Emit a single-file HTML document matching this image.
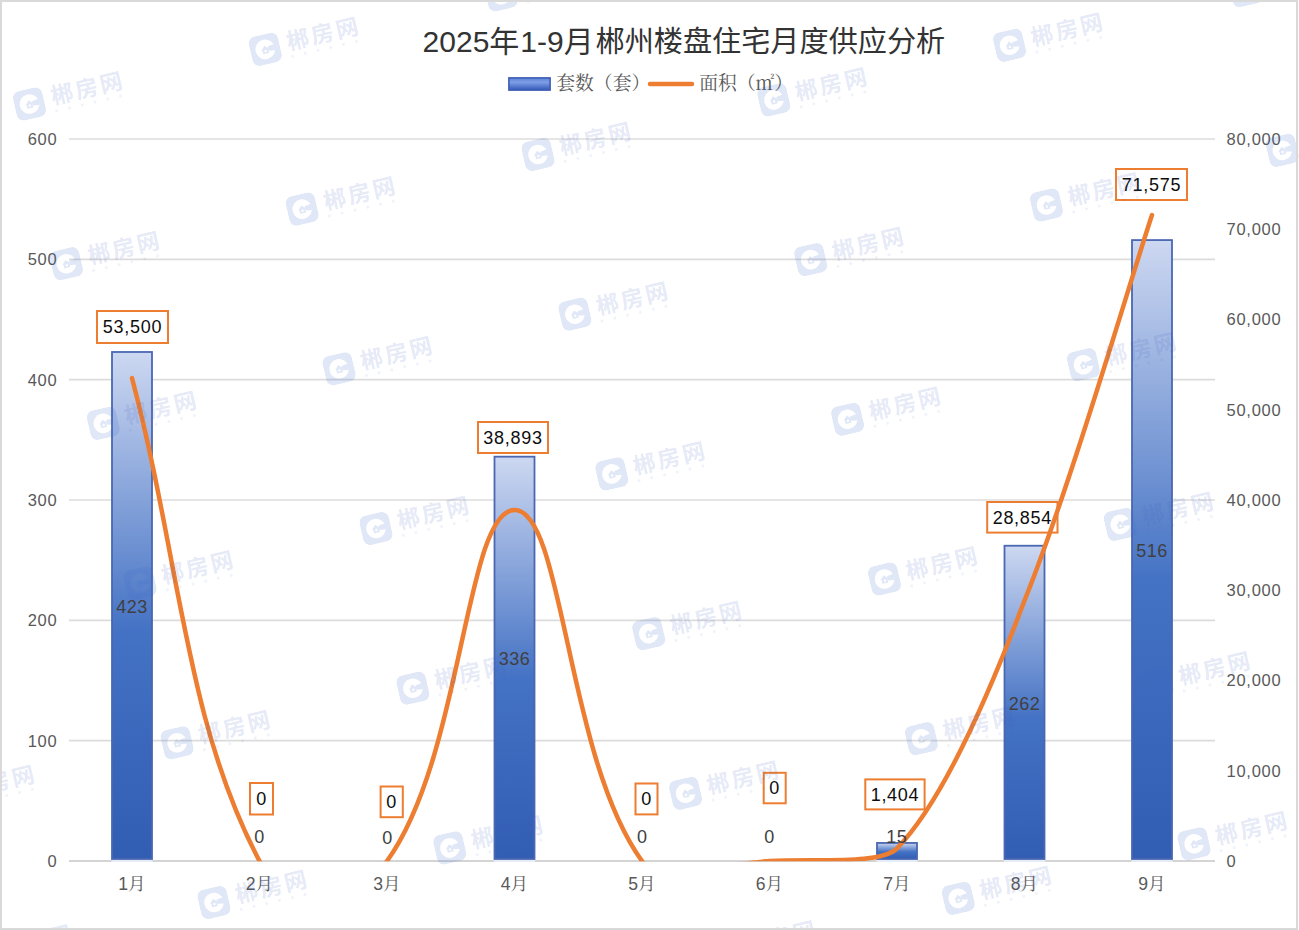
<!DOCTYPE html>
<html><head><meta charset="utf-8"><title>2025年1-9月郴州楼盘住宅月度供应分析</title>
<style>
html,body{margin:0;padding:0;background:#fff;}
body{width:1299px;height:930px;overflow:hidden;position:relative;}
.frame{position:absolute;left:0;top:0;width:1298px;height:930px;box-sizing:border-box;border:2px solid #d9d9d9;}
svg{position:absolute;left:0;top:0;}
</style></head>
<body>
<svg width="1299" height="930" viewBox="0 0 1299 930">
<line x1="69" y1="139.00" x2="1215" y2="139.00" stroke="#dcdcdc" stroke-width="1.6"/>
<line x1="69" y1="259.33" x2="1215" y2="259.33" stroke="#dcdcdc" stroke-width="1.6"/>
<line x1="69" y1="379.67" x2="1215" y2="379.67" stroke="#dcdcdc" stroke-width="1.6"/>
<line x1="69" y1="500.00" x2="1215" y2="500.00" stroke="#dcdcdc" stroke-width="1.6"/>
<line x1="69" y1="620.33" x2="1215" y2="620.33" stroke="#dcdcdc" stroke-width="1.6"/>
<line x1="69" y1="740.67" x2="1215" y2="740.67" stroke="#dcdcdc" stroke-width="1.6"/>
<defs><linearGradient id="bg" x1="0" y1="0" x2="0" y2="1"><stop offset="0" stop-color="#cdd8f1"/><stop offset="0.55" stop-color="#4472c4"/><stop offset="1" stop-color="#315db3"/></linearGradient><linearGradient id="lg" x1="0" y1="0" x2="0" y2="1"><stop offset="0" stop-color="#5b80d6"/><stop offset="0.35" stop-color="#7f9fe6"/><stop offset="1" stop-color="#3458b8"/></linearGradient><clipPath id="pc"><rect x="60" y="100" width="1170" height="761.3"/></clipPath></defs>
<rect x="112.00" y="351.99" width="40" height="507.01" fill="url(#bg)" stroke="#4a67b2" stroke-width="1.8"/>
<rect x="494.50" y="456.68" width="40" height="402.32" fill="url(#bg)" stroke="#4a67b2" stroke-width="1.8"/>
<rect x="877.00" y="842.95" width="40" height="16.05" fill="url(#bg)" stroke="#4a67b2" stroke-width="1.8"/>
<rect x="1004.50" y="545.73" width="40" height="313.27" fill="url(#bg)" stroke="#4a67b2" stroke-width="1.8"/>
<rect x="1132.00" y="240.08" width="40" height="618.92" fill="url(#bg)" stroke="#4a67b2" stroke-width="1.8"/>
<line x1="69" y1="861" x2="1215" y2="861" stroke="#d4d4d4" stroke-width="1.8"/>
<rect x="111.50" y="860" width="41" height="2" fill="#e6ecf8"/>
<rect x="494.00" y="860" width="41" height="2" fill="#e6ecf8"/>
<rect x="876.50" y="860" width="41" height="2" fill="#e6ecf8"/>
<rect x="1004.00" y="860" width="41" height="2" fill="#e6ecf8"/>
<rect x="1131.50" y="860" width="41" height="2" fill="#e6ecf8"/>
<path d="M132.00,378.16 C180.19,560.68 185.04,720.01 259.50,861.00 C290.10,918.94 356.40,903.12 387.00,861.00 C462.99,756.40 465.28,509.99 514.50,509.99 C563.72,509.99 566.01,756.40 642.00,861.00 C654.75,878.55 744.00,862.27 769.50,861.00 C818.21,858.58 880.93,864.73 897.00,848.33 C956.92,787.13 1018.12,616.42 1024.50,600.59 C1069.12,489.77 1129.69,282.51 1152.00,215.04" fill="none" stroke="#ed7d31" stroke-width="4.5" stroke-linecap="round" stroke-linejoin="round" clip-path="url(#pc)"/>
<g font-family="'Liberation Sans','Noto Sans CJK SC',sans-serif" font-size="16.5" letter-spacing="0.7" fill="#595959"><text x="57.3" y="144.90" text-anchor="end">600</text><text x="57.3" y="265.23" text-anchor="end">500</text><text x="57.3" y="385.57" text-anchor="end">400</text><text x="57.3" y="505.90" text-anchor="end">300</text><text x="57.3" y="626.23" text-anchor="end">200</text><text x="57.3" y="746.57" text-anchor="end">100</text><text x="57.3" y="866.90" text-anchor="end">0</text><text x="1226.6" y="144.90">80,000</text><text x="1226.6" y="235.15">70,000</text><text x="1226.6" y="325.40">60,000</text><text x="1226.6" y="415.65">50,000</text><text x="1226.6" y="505.90">40,000</text><text x="1226.6" y="596.15">30,000</text><text x="1226.6" y="686.40">20,000</text><text x="1226.6" y="776.65">10,000</text><text x="1226.6" y="866.90">0</text></g>
<g font-family="'Liberation Sans','Noto Sans CJK SC',sans-serif" font-size="17.6" fill="#595959"><text x="132.00" y="889.8" text-anchor="middle">1<tspan font-family="'Liberation Sans','Noto Serif CJK SC',serif">月</tspan></text><text x="259.50" y="889.8" text-anchor="middle">2<tspan font-family="'Liberation Sans','Noto Serif CJK SC',serif">月</tspan></text><text x="387.00" y="889.8" text-anchor="middle">3<tspan font-family="'Liberation Sans','Noto Serif CJK SC',serif">月</tspan></text><text x="514.50" y="889.8" text-anchor="middle">4<tspan font-family="'Liberation Sans','Noto Serif CJK SC',serif">月</tspan></text><text x="642.00" y="889.8" text-anchor="middle">5<tspan font-family="'Liberation Sans','Noto Serif CJK SC',serif">月</tspan></text><text x="769.50" y="889.8" text-anchor="middle">6<tspan font-family="'Liberation Sans','Noto Serif CJK SC',serif">月</tspan></text><text x="897.00" y="889.8" text-anchor="middle">7<tspan font-family="'Liberation Sans','Noto Serif CJK SC',serif">月</tspan></text><text x="1024.50" y="889.8" text-anchor="middle">8<tspan font-family="'Liberation Sans','Noto Serif CJK SC',serif">月</tspan></text><text x="1152.00" y="889.8" text-anchor="middle">9<tspan font-family="'Liberation Sans','Noto Serif CJK SC',serif">月</tspan></text></g>
<g font-family="'Liberation Sans','Noto Sans CJK SC',sans-serif" font-size="18" letter-spacing="0.5" fill="#404040"><text x="132" y="612.90" text-anchor="middle">423</text><text x="259.5" y="843.00" text-anchor="middle">0</text><text x="387.5" y="843.50" text-anchor="middle">0</text><text x="514.5" y="665.10" text-anchor="middle">336</text><text x="642.2" y="843.10" text-anchor="middle">0</text><text x="769.6" y="843.10" text-anchor="middle">0</text><text x="896.7" y="842.70" text-anchor="middle">15</text><text x="1024.5" y="709.90" text-anchor="middle">262</text><text x="1152" y="557.00" text-anchor="middle">516</text></g>
<g font-family="'Liberation Sans','Noto Sans CJK SC',sans-serif" font-size="18" letter-spacing="0.7" fill="#0d0d0d"><rect x="97.00" y="311.00" width="71.00" height="32.00" fill="none" stroke="#ed7d31" stroke-width="2"/><text x="132.50" y="333.40" text-anchor="middle">53,500</text><rect x="250.00" y="783.00" width="23.00" height="31.50" fill="none" stroke="#ed7d31" stroke-width="2"/><text x="261.50" y="805.15" text-anchor="middle">0</text><rect x="380.60" y="786.50" width="22.20" height="30.70" fill="none" stroke="#ed7d31" stroke-width="2"/><text x="391.70" y="808.25" text-anchor="middle">0</text><rect x="478.00" y="422.00" width="70.00" height="31.00" fill="none" stroke="#ed7d31" stroke-width="2"/><text x="513.00" y="443.90" text-anchor="middle">38,893</text><rect x="635.50" y="783.50" width="22.00" height="30.90" fill="none" stroke="#ed7d31" stroke-width="2"/><text x="646.50" y="805.35" text-anchor="middle">0</text><rect x="763.70" y="772.80" width="22.00" height="30.50" fill="none" stroke="#ed7d31" stroke-width="2"/><text x="774.70" y="794.45" text-anchor="middle">0</text><rect x="865.30" y="779.40" width="59.30" height="30.00" fill="none" stroke="#ed7d31" stroke-width="2"/><text x="894.95" y="800.80" text-anchor="middle">1,404</text><rect x="987.20" y="502.00" width="70.30" height="30.60" fill="none" stroke="#ed7d31" stroke-width="2"/><text x="1022.35" y="523.70" text-anchor="middle">28,854</text><rect x="1116.00" y="169.00" width="71.00" height="31.00" fill="none" stroke="#ed7d31" stroke-width="2"/><text x="1151.50" y="190.90" text-anchor="middle">71,575</text></g>
<text y="51.6" font-family="'Liberation Sans','Noto Sans CJK SC',sans-serif" font-size="30" fill="#333333"><tspan x="422.6">2025年</tspan><tspan x="520.3">1-9月</tspan><tspan x="595.5" font-size="29.15">郴州楼盘住宅月度供应分析</tspan></text>
<rect x="508.9" y="77.9" width="41.2" height="12.2" fill="url(#lg)" stroke="#3f5fb5" stroke-width="1.6"/>
<text x="556.3" y="89.8" font-family="'Liberation Serif','Noto Serif CJK SC',serif" font-size="18.8" fill="#595959">套数（套）</text>
<line x1="650" y1="84" x2="692" y2="84" stroke="#ed7d31" stroke-width="4.5" stroke-linecap="round"/>
<text x="699.2" y="89.8" font-family="'Liberation Serif','Noto Serif CJK SC',serif" font-size="18.8" fill="#595959">面积（㎡）</text>
<defs><mask id="wmk" maskUnits="userSpaceOnUse" x="-20" y="-20" width="40" height="40"><rect x="-15" y="-15" width="30" height="30" rx="7" fill="#fff"/><circle cx="0" cy="0" r="9.8" fill="#000"/><path d="M3,-2.2 L11,-3.4 L11,3.4 L3,2.2 Z" fill="#fff"/><path d="M-4.2,0.6 L0,-3.8 L4.2,0.6 L3,0.6 L3,4.2 L-3,4.2 L-3,0.6 Z" fill="#fff"/><circle cx="0" cy="1.6" r="1.2" fill="#000"/></mask><symbol id="wm" overflow="visible"><rect x="-15" y="-15" width="30" height="30" rx="7" fill="#3d6cc8" fill-opacity="0.16" mask="url(#wmk)"/><text x="22.5" y="5.8" font-family="'Liberation Sans','Noto Sans CJK SC',sans-serif" font-weight="700" font-size="22.6" letter-spacing="2.6" fill="#4660c0" fill-opacity="0.15">郴房网</text><circle cx="25.0" cy="12.8" r="1.5" fill="#3d62c0" fill-opacity="0.08"/><circle cx="38.1" cy="12.8" r="1.5" fill="#3d62c0" fill-opacity="0.08"/><circle cx="51.2" cy="12.8" r="1.5" fill="#3d62c0" fill-opacity="0.08"/><circle cx="64.3" cy="12.8" r="1.5" fill="#3d62c0" fill-opacity="0.08"/><circle cx="77.4" cy="12.8" r="1.5" fill="#3d62c0" fill-opacity="0.08"/><circle cx="90.5" cy="12.8" r="1.5" fill="#3d62c0" fill-opacity="0.08"/></symbol></defs>
<g><use href="#wm" transform="translate(-95.6,637.7) rotate(-13)"/><use href="#wm" transform="translate(-58.7,797.4) rotate(-13)"/><use href="#wm" transform="translate(-21.8,957.1) rotate(-13)"/><use href="#wm" transform="translate(29.5,104.0) rotate(-13)"/><use href="#wm" transform="translate(66.4,263.7) rotate(-13)"/><use href="#wm" transform="translate(103.3,423.4) rotate(-13)"/><use href="#wm" transform="translate(140.2,583.1) rotate(-13)"/><use href="#wm" transform="translate(177.1,742.8) rotate(-13)"/><use href="#wm" transform="translate(214.0,902.5) rotate(-13)"/><use href="#wm" transform="translate(265.3,49.4) rotate(-13)"/><use href="#wm" transform="translate(302.2,209.1) rotate(-13)"/><use href="#wm" transform="translate(339.1,368.8) rotate(-13)"/><use href="#wm" transform="translate(376.0,528.5) rotate(-13)"/><use href="#wm" transform="translate(412.9,688.2) rotate(-13)"/><use href="#wm" transform="translate(449.8,847.9) rotate(-13)"/><use href="#wm" transform="translate(501.1,-5.2) rotate(-13)"/><use href="#wm" transform="translate(538.0,154.5) rotate(-13)"/><use href="#wm" transform="translate(574.9,314.2) rotate(-13)"/><use href="#wm" transform="translate(611.8,473.9) rotate(-13)"/><use href="#wm" transform="translate(648.7,633.6) rotate(-13)"/><use href="#wm" transform="translate(685.6,793.3) rotate(-13)"/><use href="#wm" transform="translate(722.5,953.0) rotate(-13)"/><use href="#wm" transform="translate(773.8,99.9) rotate(-13)"/><use href="#wm" transform="translate(810.7,259.6) rotate(-13)"/><use href="#wm" transform="translate(847.6,419.3) rotate(-13)"/><use href="#wm" transform="translate(884.5,579.0) rotate(-13)"/><use href="#wm" transform="translate(921.4,738.7) rotate(-13)"/><use href="#wm" transform="translate(958.3,898.4) rotate(-13)"/><use href="#wm" transform="translate(1009.6,45.3) rotate(-13)"/><use href="#wm" transform="translate(1046.5,205.0) rotate(-13)"/><use href="#wm" transform="translate(1083.4,364.7) rotate(-13)"/><use href="#wm" transform="translate(1120.3,524.4) rotate(-13)"/><use href="#wm" transform="translate(1157.2,684.1) rotate(-13)"/><use href="#wm" transform="translate(1194.1,843.8) rotate(-13)"/><use href="#wm" transform="translate(1245.4,-9.3) rotate(-13)"/><use href="#wm" transform="translate(1282.3,150.4) rotate(-13)"/></g>
</svg>
<div class="frame"></div>
</body></html>
